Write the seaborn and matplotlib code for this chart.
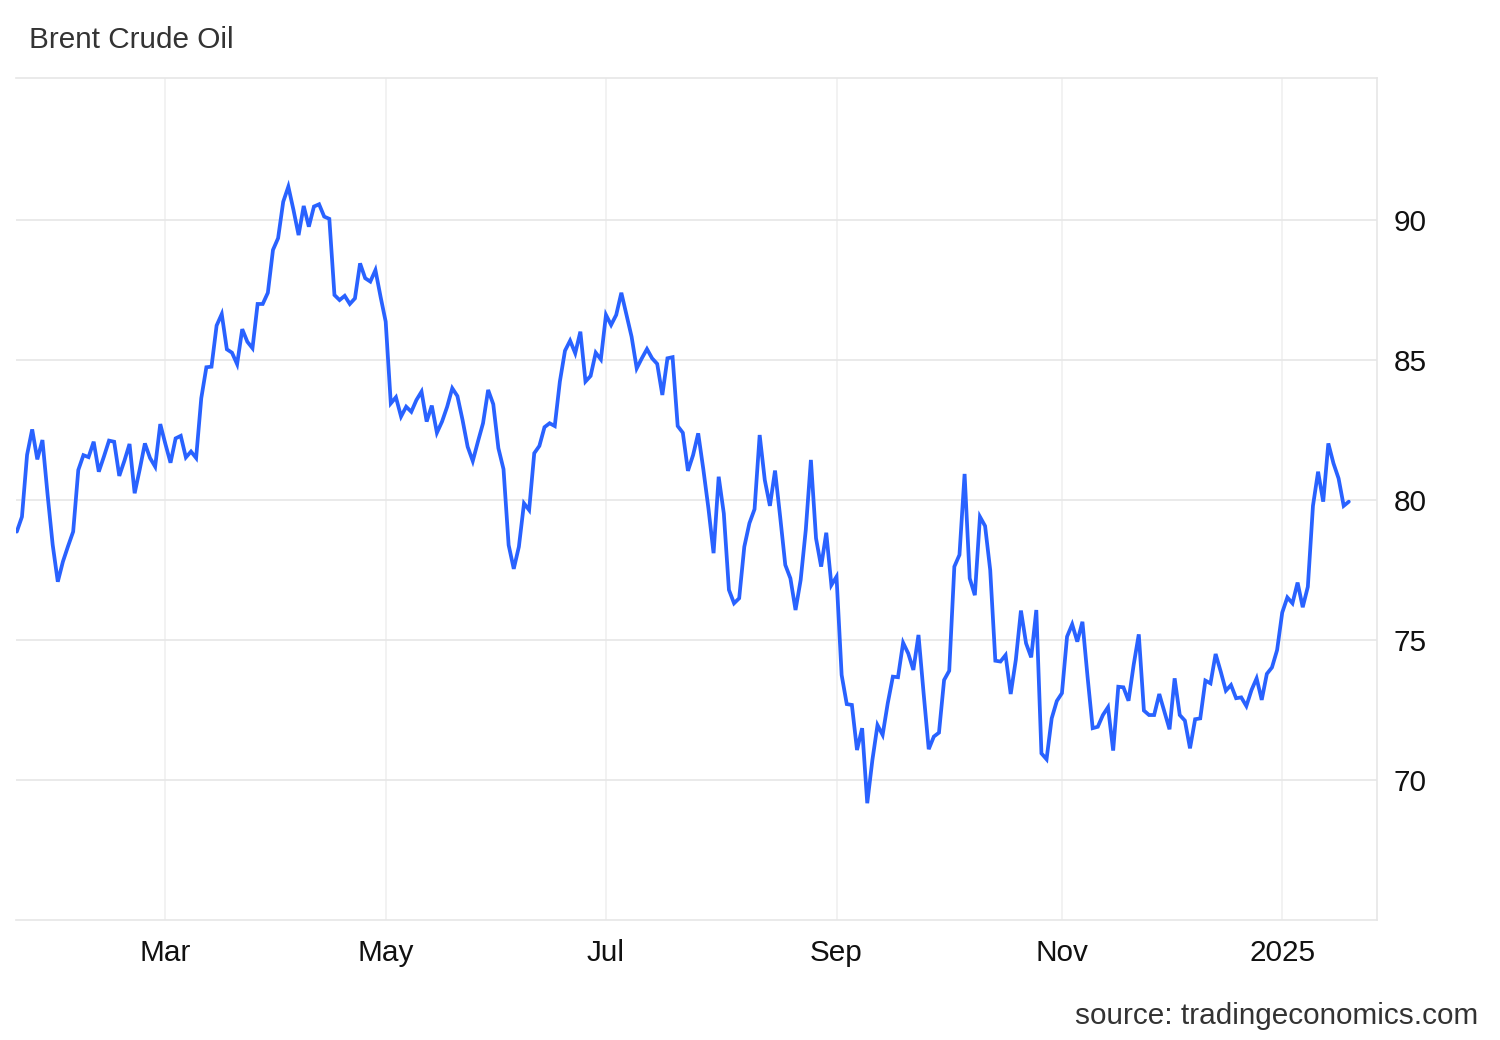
import numpy as np
import pandas as pd
from matplotlib import pyplot as plt
import seaborn as sns

# Brent daily close (trading days from 22 Jan 2024)
brent = [
    78.87, 79.40, 81.61, 82.52, 81.45, 82.14, 80.20, 78.40, 77.08, 77.80,
    78.35, 78.87, 81.07, 81.60, 81.53, 82.08, 81.01, 81.55, 82.12, 82.08,
    80.86, 81.40, 82.00, 80.24, 81.10, 82.02, 81.50, 81.19, 82.71, 82.00,
    81.33, 82.20, 82.29, 81.52, 81.73, 81.50, 83.63, 84.74, 84.76, 86.23,
    86.64, 85.38, 85.26, 84.85, 86.10, 85.65, 85.42, 87.00, 87.00, 87.40,
    88.93, 89.35, 90.65, 91.19, 90.36, 89.46, 90.50, 89.76, 90.48, 90.56,
    90.12, 90.04, 87.32, 87.14, 87.29, 87.00, 87.20, 88.45, 87.92, 87.80,
    88.21, 87.26, 86.37, 83.45, 83.67, 82.98, 83.33, 83.15, 83.57, 83.87,
    82.80, 83.37, 82.40, 82.80, 83.33, 83.99, 83.71, 82.86, 81.90, 81.39,
    82.08, 82.74, 83.93, 83.42, 81.85, 81.10, 78.39, 77.54, 78.33, 79.88,
    79.64, 81.67, 81.93, 82.60, 82.74, 82.64, 84.23, 85.33, 85.69, 85.24,
    86.01, 84.23, 84.43, 85.26, 85.02, 86.61, 86.25, 86.61, 87.40, 86.61,
    85.83, 84.70, 85.06, 85.39, 85.06, 84.86, 83.75, 85.06, 85.10, 82.64,
    82.40, 81.04, 81.60, 82.38, 81.10, 79.70, 78.10, 80.83, 79.52, 76.79,
    76.31, 76.49, 78.33, 79.17, 79.67, 82.32, 80.71, 79.79, 81.05, 79.40,
    77.68, 77.20, 76.07, 77.14, 78.93, 81.43, 78.63, 77.62, 78.83, 76.96,
    77.26, 73.75, 72.71, 72.68, 71.07, 71.85, 69.17, 70.71, 71.96, 71.61,
    72.74, 73.69, 73.67, 74.90, 74.52, 73.93, 75.18, 73.10, 71.10, 71.55,
    71.69, 73.57, 73.90, 77.62, 78.04, 80.93, 77.20, 76.60, 79.40, 79.07,
    77.50, 74.26, 74.23, 74.46, 73.07, 74.29, 76.05, 74.88, 74.38, 76.07,
    70.95, 70.74, 72.20, 72.82, 73.10, 75.12, 75.56, 74.94, 75.65, 73.69,
    71.85, 71.90, 72.32, 72.60, 71.05, 73.33, 73.31, 72.83, 74.11, 75.20,
    72.48, 72.32, 72.32, 73.07, 72.44, 71.81, 73.63, 72.32, 72.12, 71.13,
    72.17, 72.20, 73.55, 73.45, 74.50, 73.87, 73.19, 73.39, 72.92, 72.95,
    72.64, 73.21, 73.63, 72.86, 73.79, 74.02, 74.64, 75.98, 76.52, 76.31,
    77.05, 76.17, 76.90, 79.79, 81.01, 79.94, 82.02, 81.31, 80.77, 79.79,
    79.94,
]
start_date = "2024-01-22"
tick_months = ["2024-03", "2024-05", "2024-07", "2024-09", "2024-11", "2025-01"]
tick_labels = ["Mar", "May", "Jul", "Sep", "Nov", "2025"]
y_ticks = [70, 75, 80, 85, 90]

df = pd.DataFrame({
    "date": pd.bdate_range(start_date, periods=len(brent)),
    "price": brent,
})
# ordinal axis: one slot per trading day, no weekend gaps
df["pos"] = np.arange(len(df))
first_pos = df.groupby(df["date"].dt.strftime("%Y-%m"))["pos"].first()
x_ticks = [first_pos[m] for m in tick_months]

sns.set_style("white")
plt.rcParams["font.family"] = ["Liberation Sans", "DejaVu Sans"]

fig = plt.figure(figsize=(15, 10.4), dpi=100)
ax = fig.add_axes([0.0107, 0.1154, 0.9073, 0.8096])

sns.lineplot(data=df, x="pos", y="price", ax=ax, color="#2962ff",
             linewidth=2.7, solid_joinstyle="miter")

ax.set_xlim(-0.15, 265.5)
ax.set_ylim(65.0, 95.07)
ax.set_xticks(x_ticks)
ax.set_xticklabels(tick_labels)
ax.set_yticks(y_ticks)
ax.yaxis.tick_right()
ax.set_xlabel("")
ax.set_ylabel("")

ax.tick_params(axis="x", length=0, pad=14, labelsize=21.4, labelcolor="#111111")
ax.tick_params(axis="y", length=0, pad=12, labelsize=21.4, labelcolor="#111111")

ax.grid(axis="y", color="#e6e6e6", linewidth=1.2)
ax.grid(axis="x", color="#f0f0f0", linewidth=1.2)
ax.set_axisbelow(True)

for side in ["top", "bottom", "right"]:
    ax.spines[side].set_color("#e6e6e6")
    ax.spines[side].set_linewidth(1.2)
ax.spines["left"].set_visible(False)

fig.text(0.0193, 0.9615, "Brent Crude Oil", fontsize=21.4, color="#333333",
         ha="left", va="center")
fig.text(0.9853, 0.023, "source: tradingeconomics.com", fontsize=21.4,
         color="#333333", ha="right", va="center")

fig.savefig("out.png", dpi=100)
